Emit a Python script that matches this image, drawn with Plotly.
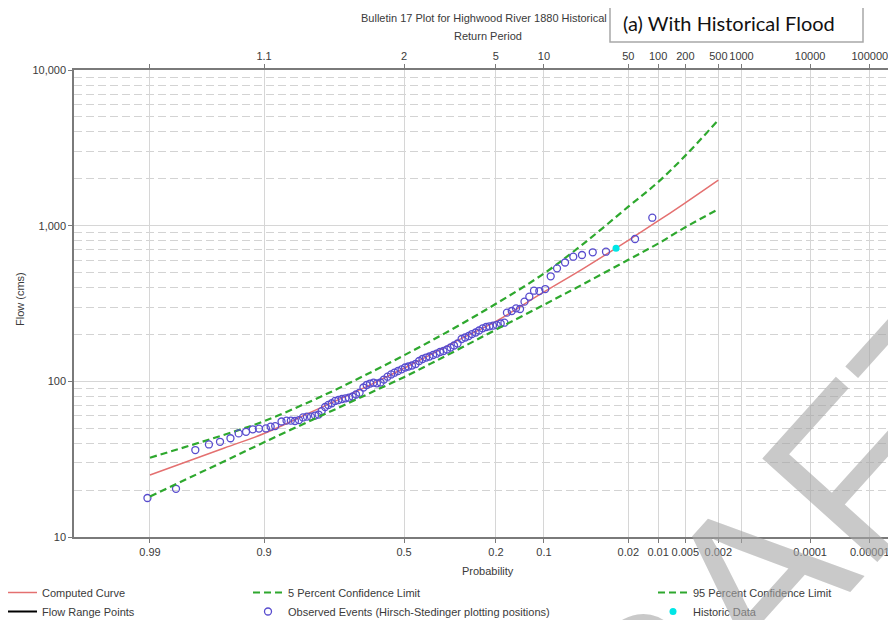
from statistics import NormalDist
import plotly.graph_objects as go

nd = NormalDist()


def zpos(p):
    """exceedance probability -> normal probability-paper coordinate"""
    return nd.inv_cdf(1.0 - p)


# ---------------- data ----------------
obs_prob = [0.9906, 0.9816, 0.972, 0.963, 0.954, 0.944, 0.935, 0.926, 0.917, 0.908,
            0.897, 0.889, 0.881, 0.869, 0.859, 0.850, 0.841, 0.832, 0.8225, 0.813,
            0.803, 0.7925, 0.783, 0.7745, 0.765, 0.756, 0.746, 0.736, 0.726, 0.715,
            0.704, 0.693, 0.681, 0.670, 0.658, 0.645, 0.634, 0.622, 0.610, 0.598,
            0.585, 0.573, 0.560, 0.547, 0.535, 0.522, 0.509, 0.496, 0.484, 0.471,
            0.458, 0.445, 0.433, 0.420, 0.408, 0.395, 0.383, 0.371, 0.359, 0.347,
            0.335, 0.3235, 0.312, 0.299, 0.288, 0.277, 0.267, 0.256, 0.246, 0.236,
            0.226, 0.217, 0.2075, 0.198, 0.188, 0.179, 0.173, 0.162, 0.1525, 0.144,
            0.135, 0.1256, 0.117, 0.1077, 0.098, 0.0896, 0.0806, 0.0702, 0.0606, 0.0516,
            0.042, 0.0322, 0.0172, 0.0115]
obs_flow = [17.8, 20.4, 36.2, 39.3, 40.9, 43.1, 46.3, 47.4, 49.2, 49.7,
            49.8, 51.1, 51.6, 55.2, 55.9, 55.9, 55.6, 56.4, 58.6, 59.3,
            59.3, 60.3, 61.2, 64.4, 68.4, 70.5, 72.3, 74.8, 75.9, 77.0,
            77.8, 78.5, 79.9, 82.3, 84.5, 91.3, 94.7, 96.8, 98.0, 97.1,
            98.3, 102.7, 107.1, 110.7, 113.6, 116.5, 119.4, 122.7, 124.5, 126.4,
            129.2, 135.1, 139.1, 142.2, 144.4, 147.6, 150.5, 154.3, 156.6, 160.1,
            164.9, 169.9, 175.0, 187.1, 191.3, 195.5, 201.3, 205.9, 212.1, 219.1,
            223.4, 225.7, 227.8, 230.1, 235.2, 238.0, 276.1, 283.0, 294.5, 291.5,
            324.8, 349.7, 382.1, 380.2, 391.7, 472.9, 532.1, 580.0, 631.8, 647.9,
            674.5, 680.3, 820.8, 1125.0]

hist_prob = [0.0261]
hist_flow = [715.0]

curve_prob = [0.99, 0.95, 0.9, 0.8, 0.7, 0.6, 0.5, 0.4, 0.3, 0.2, 0.1, 0.05, 0.02, 0.01, 0.005, 0.002]
computed_flow = [25.0, 37.3, 46.2, 63.9, 80.7, 99.2, 121.3, 149.4, 188.2, 243.0, 375.0, 532.0, 805.0, 1072.0, 1403.0, 1963.0]
upper5_flow = [32.3, 45.4, 55.5, 75.2, 95.7, 119.1, 146.9, 182.8, 233.3, 314.8, 493.0, 767.0, 1324.0, 1905.0, 2818.0, 4775.0]
lower95_flow = [18.2, 30.7, 40.6, 56.5, 71.6, 87.9, 106.4, 130.9, 164.1, 214.8, 310.5, 422.7, 604.0, 767.0, 977.0, 1274.0]

prob_ticks = [0.99, 0.9, 0.5, 0.2, 0.1, 0.02, 0.01, 0.005, 0.002, 0.001, 0.0001, 0.00001]
prob_labels = ["0.99", "0.9", "0.5", "0.2", "0.1", "0.02", "0.01", "0.005", "0.002", "", "0.0001", "0.00001"]
return_labels = ["", "1.1", "2", "5", "10", "50", "100", "200", "500", "1000", "10000", "100000"]

flow_ticks = [10, 100, 1000, 10000]
flow_labels = ["10", "100", "1,000", "10,000"]
flow_minor = [20, 30, 40, 50, 60, 70, 80, 90, 200, 300, 400, 500, 600, 700, 800, 900,
              2000, 3000, 4000, 5000, 6000, 7000, 8000, 9000]

# ---------------- styling ----------------
RED = "rgb(228,112,112)"
GREEN = "rgb(46,168,46)"
BLUE = "rgb(88,76,206)"
CYAN = "rgb(0,230,230)"
GRID = "#d6d6d6"
AXIS = "#7a7a7a"
TXT = "#3a3a3a"
FONT = "Liberation Sans, Arial, sans-serif"

# the page body has an 8px margin, so the figure is laid out 8px up/left
OFF = 8
W, H = 896, 620
PLOT_L, PLOT_R, PLOT_T, PLOT_B = 74, 896, 70, 537          # page pixels
L, T = PLOT_L - OFF, PLOT_T - OFF
R = W - (PLOT_R - OFF)
B = H - (PLOT_B - OFF)
PW, PH = PLOT_R - PLOT_L, PLOT_B - PLOT_T


def px_x(px):
    return (px - PLOT_L) / PW


def px_y(py):
    return (PLOT_B - py) / PH


x_lo = -3.022
x_hi = 4.505

fig = go.Figure()

fig.add_trace(go.Scatter(
    x=[zpos(p) for p in curve_prob], y=computed_flow, mode="lines", line_shape="spline",
    name="Computed Curve", line=dict(color=RED, width=1.5), legend="legend"))
fig.add_trace(go.Scatter(
    x=[None], y=[None], mode="lines", name="Flow Range Points",
    line=dict(color="black", width=2), legend="legend"))
fig.add_trace(go.Scatter(
    x=[zpos(p) for p in curve_prob], y=upper5_flow, mode="lines", line_shape="spline",
    name="5 Percent Confidence Limit", line=dict(color=GREEN, width=2.2, dash="7px,4px"),
    legend="legend2"))
fig.add_trace(go.Scatter(
    x=[zpos(p) for p in obs_prob], y=obs_flow, mode="markers",
    name="Observed Events (Hirsch-Stedinger plotting positions)",
    marker=dict(symbol="circle-open", size=7, color=BLUE, line=dict(width=1.3)),
    legend="legend2"))
fig.add_trace(go.Scatter(
    x=[zpos(p) for p in curve_prob], y=lower95_flow, mode="lines", line_shape="spline",
    name="95 Percent Confidence Limit", line=dict(color=GREEN, width=2.2, dash="7px,4px"),
    legend="legend3"))
fig.add_trace(go.Scatter(
    x=[zpos(p) for p in hist_prob], y=hist_flow, mode="markers",
    name="Historic Data", marker=dict(symbol="circle", size=7, color=CYAN),
    legend="legend3"))

legend_common = dict(orientation="v", yanchor="top", xanchor="left",
                     font=dict(family=FONT, size=11, color=TXT),
                     bgcolor="rgba(0,0,0,0)", tracegroupgap=0, itemwidth=30)

fig.update_layout(
    width=W, height=H,
    margin=dict(l=L, r=R, t=T, b=B, autoexpand=False),
    paper_bgcolor="white", plot_bgcolor="white",
    font=dict(family=FONT, size=11, color=TXT),
    showlegend=True,
    legend=dict(x=px_x(2), y=px_y(578), **legend_common),
    legend2=dict(x=px_x(248), y=px_y(578), **legend_common),
    legend3=dict(x=px_x(653), y=px_y(578), **legend_common),
    xaxis=dict(
        range=[x_lo, x_hi], tickmode="array", automargin=False, tickangle=0,
        tickvals=[zpos(p) for p in prob_ticks], ticktext=prob_labels,
        showgrid=True, gridcolor=GRID, gridwidth=1, zeroline=False,
        showline=True, linecolor=AXIS, linewidth=1.5,
        ticks="outside", ticklen=4, tickcolor=AXIS,
        tickfont=dict(family=FONT, size=11, color=TXT),
    ),
    xaxis2=dict(
        range=[x_lo, x_hi], overlaying="x", side="top", anchor="y", tickmode="array",
        automargin=False, tickangle=0,
        tickvals=[zpos(p) for p in prob_ticks], ticktext=return_labels,
        showgrid=False, zeroline=False,
        showline=True, linecolor=AXIS, linewidth=1.5,
        ticks="outside", ticklen=4, tickcolor=AXIS,
        tickfont=dict(family=FONT, size=11, color=TXT),
    ),
    yaxis=dict(
        type="log", range=[1, 4], tickmode="array", automargin=False,
        tickvals=flow_ticks, ticktext=flow_labels,
        showgrid=True, gridcolor=GRID, gridwidth=1, zeroline=False,
        showline=True, linecolor=AXIS, linewidth=1.5,
        ticks="outside", ticklen=4, tickcolor=AXIS,
        tickfont=dict(family=FONT, size=11, color=TXT),
        minor=dict(tickmode="array", tickvals=flow_minor, showgrid=True,
                   gridcolor="#d3d3d3", gridwidth=1.3, griddash="8px,4px", ticks=""),
    ),
)

# trace to bind top axis
fig.add_trace(go.Scatter(x=[], y=[], xaxis="x2", yaxis="y", showlegend=False,
                         hoverinfo="skip"))

annotations = [
    dict(text="Bulletin 17 Plot for Highwood River 1880 Historical", x=px_x(484), y=px_y(18),
         xref="paper", yref="paper", showarrow=False, font=dict(size=11, color=TXT),
         xanchor="center", yanchor="middle"),
    dict(text="Return Period", x=px_x(488), y=px_y(36),
         xref="paper", yref="paper", showarrow=False, font=dict(size=11, color=TXT),
         xanchor="center", yanchor="middle"),
    dict(text="Probability", x=px_x(488), y=px_y(571),
         xref="paper", yref="paper", showarrow=False, font=dict(size=11, color=TXT),
         xanchor="center", yanchor="middle"),
    dict(text="Flow (cms)", x=px_x(20), y=px_y(299), textangle=-90,
         xref="paper", yref="paper", showarrow=False, font=dict(size=11, color=TXT),
         xanchor="center", yanchor="middle"),
    dict(text="(a) With Historical Flood", x=px_x(729), y=px_y(23),
         xref="paper", yref="paper", showarrow=False,
         font=dict(family="Lato, Open Sans, sans-serif", size=20, color="#111111"),
         xanchor="center", yanchor="middle"),
    dict(text="DRAFT", x=px_x(740), y=px_y(598), textangle=-48,
         xref="paper", yref="paper", showarrow=False,
         font=dict(family=FONT, size=225, color="rgba(165,165,165,0.6)"),
         xanchor="center", yanchor="middle"),
]
fig.update_layout(annotations=annotations)

fig.add_shape(type="rect", xref="paper", yref="paper",
              x0=px_x(610), x1=px_x(863), y0=px_y(42), y1=px_y(4),
              line=dict(color="#a8a8a8", width=1.5), fillcolor="white", layer="below")

fig.write_html("out.html")
